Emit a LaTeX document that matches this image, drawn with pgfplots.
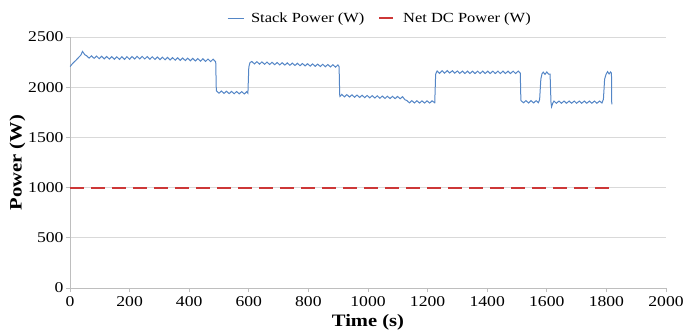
\documentclass[border=0pt]{standalone}
\usepackage{pgfplots}
\pgfplotsset{compat=1.18}
\usepackage{fontspec}
\setmainfont{Liberation Serif}[FakeStretch=1.18]
\definecolor{stackblue}{RGB}{84,134,198}
\definecolor{netred}{RGB}{205,55,55}
\definecolor{gridgray}{RGB}{217,217,217}
\definecolor{axgray}{RGB}{190,190,190}
\begin{document}
\begin{tikzpicture}
\begin{axis}[
  at={(0,0)}, anchor=south west,
  scale only axis, width=596bp, height=251bp,
  xmin=0, xmax=2000, ymin=0, ymax=2500,
  xtick={0,200,...,2000}, ytick={0,500,...,2500},
  axis x line*=bottom, axis y line*=left,
  axis line style={axgray, line width=0.8bp, -},
  ymajorgrids, grid style={gridgray, line width=0.8bp},
  tick align=outside, major tick length=4bp,
  tick style={axgray, line width=0.8bp},
  /pgf/number format/assume math mode=true,
  /pgf/number format/1000 sep={},
  ticklabel style={font=\fontsize{15}{18}\selectfont, black},
  xticklabel style={yshift=-1bp},
  yticklabel style={xshift=1bp},
  xlabel={\textbf{Time (s)}}, ylabel={\textbf{Power (W)}},
  label style={font=\fontsize{17.5}{20}\selectfont},
  xlabel style={yshift=-1bp},
  ylabel style={yshift=-4bp},
  legend columns=2,
  legend style={at={(0.52,1)}, anchor=south, yshift=9bp, draw=none, fill=none,
    font=\fontsize{14}{17}\selectfont, column sep=5bp,
    /tikz/every even column/.append style={column sep=12bp}},
  legend image code/.code={\draw[#1] (0bp,0bp) -- (16bp,0bp);},
]
\addplot[draw=stackblue, line width=1bp] coordinates {
(0,2205) (10,2240) (20,2268) (30,2300) (36,2318) (42,2356) (50,2322)
(55,2315) (64,2290) (72,2312) (81,2287) (89,2310) (98,2284) (106,2308) (115,2282)
(123,2306) (132,2280) (140,2304) (149,2278) (157,2303) (166,2277) (174,2303) (183,2277)
(191,2304) (200,2278) (208,2306) (217,2281) (225,2307) (234,2282) (242,2307) (251,2281)
(259,2305) (268,2279) (276,2303) (285,2277) (293,2301) (302,2275) (310,2299) (319,2273)
(327,2297) (336,2271) (344,2295) (353,2269) (361,2293) (370,2267) (378,2291) (387,2265)
(395,2289) (404,2263) (412,2287) (421,2261) (429,2285) (438,2259) (446,2283) (455,2257)
(463,2281) (472,2255) (480,2279) (489,2253)
(491,1965) (492,1962) (500,1940) (508,1962) (517,1938) (525,1960) (534,1936) (542,1958)
(551,1935) (559,1957) (568,1934) (576,1956) (585,1933) (593,1955) (597,1940)
(600,2200) (604,2245)
(610,2256) (619,2232) (627,2254) (636,2230) (644,2252) (653,2228) (661,2250) (670,2226)
(678,2248) (687,2224) (695,2246) (704,2222) (712,2244) (721,2220) (729,2242) (738,2218)
(746,2240) (755,2216) (763,2238) (772,2214) (780,2236) (789,2212) (797,2234) (806,2210)
(814,2232) (823,2208) (831,2230) (840,2206) (848,2228) (857,2204) (865,2226) (874,2202)
(882,2224) (891,2200) (899,2222) (903,2205)
(905,1925) (906,1908) (912,1928) (921,1904) (929,1926) (938,1902) (946,1924) (955,1900)
(963,1922) (972,1898) (980,1920) (989,1896) (997,1918) (1006,1894) (1014,1916) (1023,1892)
(1031,1914) (1040,1890) (1048,1912) (1057,1888) (1065,1910) (1074,1887) (1082,1909)
(1091,1886) (1099,1908) (1108,1885) (1116,1906) (1124,1875)
(1130,1868) (1139,1844) (1147,1866) (1156,1843) (1164,1865) (1173,1842) (1181,1864)
(1190,1842) (1198,1864) (1207,1842) (1215,1864) (1224,1845)
(1227,2130) (1232,2162) (1240,2138) (1249,2164) (1257,2140) (1266,2165) (1274,2141)
(1283,2164) (1291,2140) (1300,2162) (1308,2138) (1317,2160) (1325,2136) (1334,2160)
(1342,2136) (1351,2160) (1359,2136) (1368,2160) (1376,2136) (1385,2160) (1393,2136)
(1402,2160) (1410,2136) (1419,2160) (1427,2136) (1436,2160) (1444,2136) (1453,2160)
(1461,2136) (1470,2160) (1478,2136) (1487,2160) (1495,2136) (1504,2160) (1511,2140)
(1513,1870) (1515,1862) (1522,1845) (1530,1866) (1539,1843) (1547,1866) (1556,1843)
(1564,1866) (1572,1845)
(1576,1880) (1580,2080) (1584,2135) (1588,2150) (1594,2128) (1600,2152) (1606,2130) (1611,2130)
(1614,1850) (1616,1805) (1620,1840)
(1624,1862) (1632,1840) (1641,1862) (1649,1840) (1658,1862) (1666,1840) (1675,1862)
(1683,1840) (1692,1862) (1700,1840) (1709,1862) (1717,1840) (1726,1862) (1734,1840)
(1743,1862) (1751,1840) (1760,1862) (1768,1840) (1777,1862) (1785,1843)
(1790,1880) (1794,2080) (1799,2130) (1804,2155) (1809,2132) (1814,2152) (1817,2140)
(1818,1830)
};
\addlegendentry{Stack Power (W)}
\addplot[draw=netred, line width=1.8bp, dash pattern=on 14bp off 7bp] coordinates {(0,1000) (1822,1000)};
\addlegendentry{Net DC Power (W)}
\end{axis}
\pgfresetboundingbox
\path (-70bp,-47bp) rectangle (613bp,288bp);
\end{tikzpicture}
\end{document}
